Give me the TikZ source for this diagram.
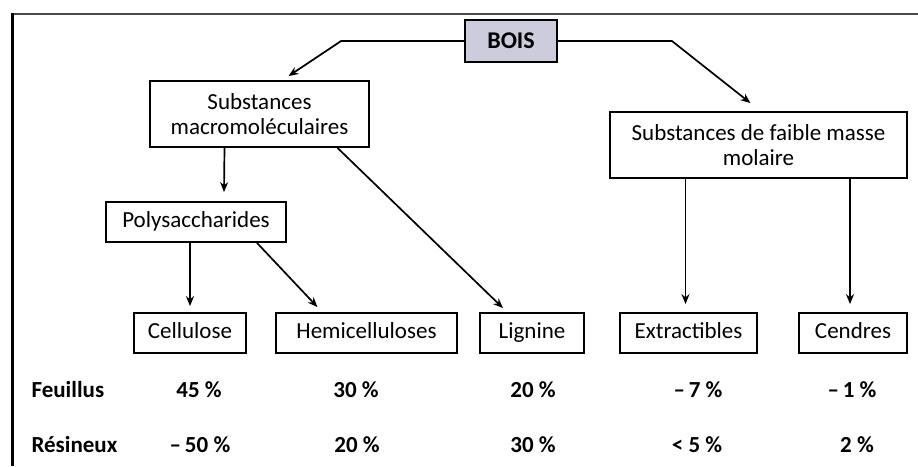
\documentclass[tikz,border=0pt]{standalone}
\usepackage{fontspec}
\setmainfont{Carlito}
\usetikzlibrary{arrows.meta}
\definecolor{boisfill}{RGB}{204,204,220}

\begin{document}
\begin{tikzpicture}[x=1pt,y=-1pt,
  font=\fontsize{23}{25}\selectfont,
  box/.style={rectangle,draw,line width=1.8pt,inner sep=0pt,align=center,minimum height=40pt},
  leaf/.style={box,text height=16pt,text depth=5pt},
  val/.style={font=\fontsize{23}{25}\selectfont\bfseries},
  link/.style={line width=1.7pt,-{Stealth[length=10pt,width=8pt]}}]
\useasboundingbox (0,0) rectangle (918,466);
\draw[line width=1.6pt,black!70] (12,14) -- (918,14);
\draw[line width=3pt] (12,13) -- (12,466);

\node [box,fill=boisfill,minimum width=92pt,minimum height=42pt,font=\fontsize{24}{25}\selectfont\bfseries] (bois) at (511,41) {BOIS};
\node [box,minimum width=219pt,minimum height=66pt] (macro) at (259.5,114) {Substances\\macromoléculaires};
\node [box,minimum width=297pt,minimum height=66pt] (faible) at (758.5,145) {Substances de faible masse\\molaire};
\node [leaf,minimum width=180pt] (poly) at (196,222) {Polysaccharides};
\node [leaf,minimum width=112pt] (cell) at (190,333) {Cellulose};
\node [leaf,minimum width=181pt] (hemi) at (366.5,333) {Hemicelluloses};
\node [leaf,minimum width=104pt] (lig) at (532,333) {Lignine};
\node [leaf,minimum width=137pt] (extr) at (688.5,333) {Extractibles};
\node [leaf,minimum width=108pt] (cend) at (853,333) {Cendres};

\draw[link] (bois.west) -- ++(-123,0) -- ([xshift=29pt,yshift=4pt]macro.north);
\draw[link] (bois.east) -- ++(114,0) -- ([xshift=-8pt,yshift=8pt]faible.north);
\draw[link] ([xshift=-35pt]macro.south) -- ([xshift=28pt,yshift=9pt]poly.north);
\draw[link] ([xshift=78pt]macro.south) -- ([xshift=-29pt,yshift=4pt]lig.north);
\draw[link] (poly.south -| cell.north) -- ([yshift=6pt]cell.north);
\draw[link] ([xshift=61pt]poly.south) -- ([xshift=-49pt,yshift=5pt]hemi.north);
\draw[link] ([xshift=-3pt]faible.south -| extr.north) -- ([xshift=-3pt,yshift=8pt]extr.north);
\draw[link] ([xshift=-3pt]faible.south -| cend.north) -- ([xshift=-3pt,yshift=8pt]cend.north);

% proportions
\node [val,anchor=west] (feu) at (28,390) {Feuillus};
\node [val,anchor=west] (res) at (28,445) {Résineux};
\node [val] (feu1) at (199,390) {45 \%};
\node [val] (feu2) at (356,390) {30 \%};
\node [val] (feu3) at (533,390) {20 \%};
\node [val] (feu4) at (698,390) {–\,7 \%};
\node [val] (feu5) at (852,390) {–\,1 \%};
\node [val] (res1) at (200,445) {–\,50 \%};
\node [val] (res2) at (357,445) {20 \%};
\node [val] (res3) at (533,445) {30 \%};
\node [val] (res4) at (697,445) {< 5 \%};
\node [val] (res5) at (857,445) {2 \%};
\end{tikzpicture}
\end{document}
